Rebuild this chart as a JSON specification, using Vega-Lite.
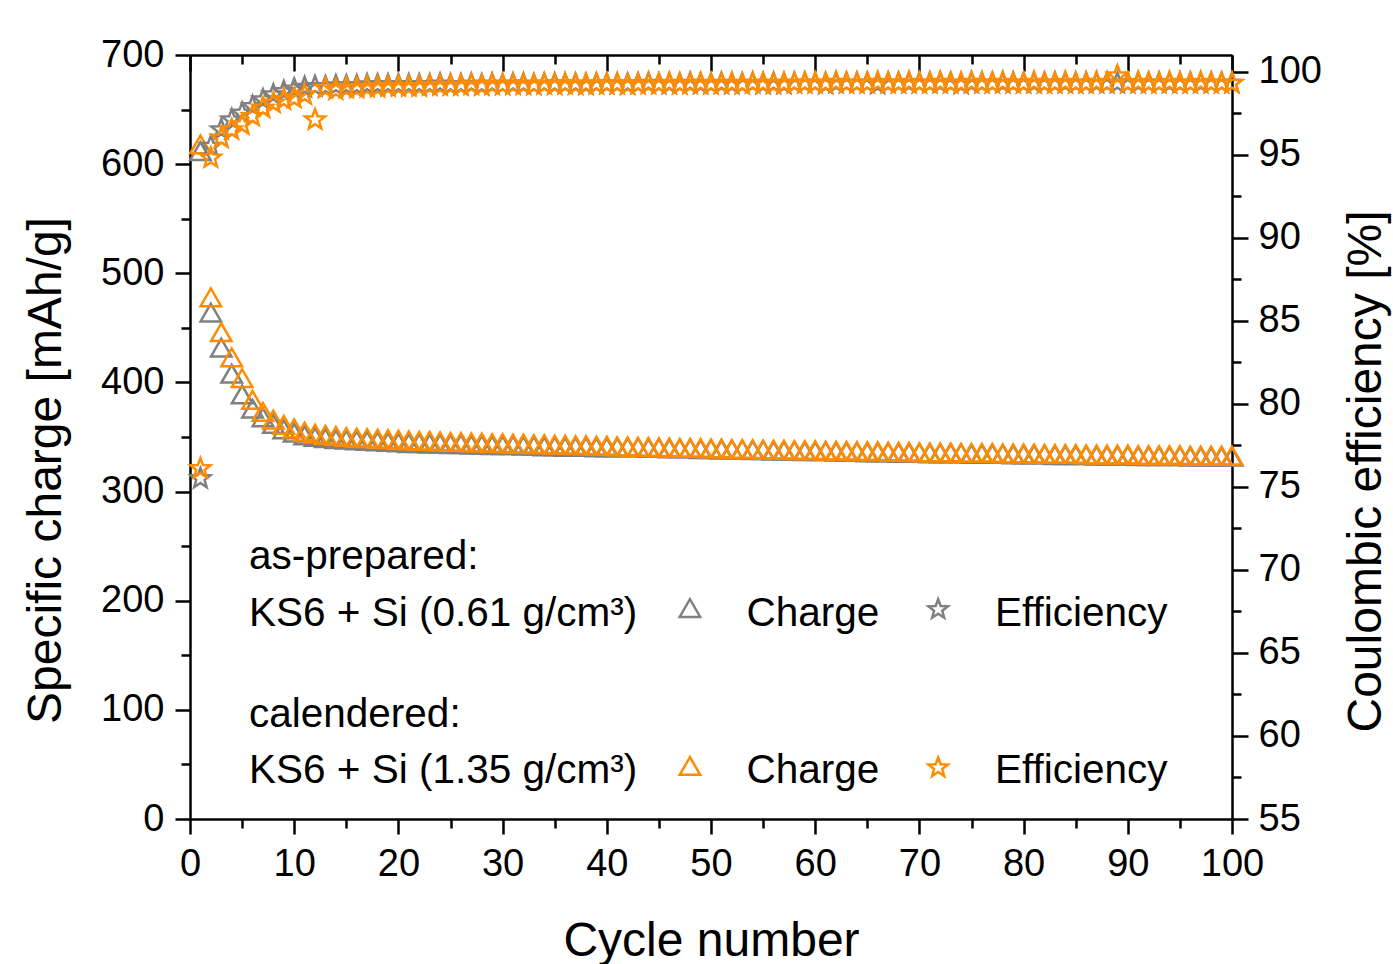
{
  "$schema": "https://vega.github.io/schema/vega-lite/v6.json",
  "width": 1042,
  "height": 764,
  "autosize": {"type": "none"},
  "padding": {"left": 190, "top": 55, "right": 161, "bottom": 145},
  "background": "white",
  "config": {
    "view": {"stroke": null},
    "axis": {
      "domainColor": "black", "domainWidth": 2.5, "tickColor": "black", "tickWidth": 2.5,
      "labelFont": "Liberation Sans", "labelFontSize": 38, "labelColor": "black",
      "titleFont": "Liberation Sans", "titleFontSize": 48, "titleFontWeight": "normal", "titleColor": "black",
      "grid": false, "labelOverlap": false, "labelFlush": false, "labelBound": false
    }
  },
  "data": {"values": [
    {"c":1,"s":"as-prepared","q":612,"e":75.5},{"c":2,"s":"as-prepared","q":464,"e":95.5},{"c":3,"s":"as-prepared","q":432,"e":96.5},{"c":4,"s":"as-prepared","q":408,"e":97.1},{"c":5,"s":"as-prepared","q":389,"e":97.5},{"c":6,"s":"as-prepared","q":376,"e":97.9},{"c":7,"s":"as-prepared","q":368,"e":98.3},{"c":8,"s":"as-prepared","q":362,"e":98.6},{"c":9,"s":"as-prepared","q":357,"e":98.8},{"c":10,"s":"as-prepared","q":354,"e":98.95},
    {"c":11,"s":"as-prepared","q":351.5,"e":99.05},{"c":12,"s":"as-prepared","q":350,"e":99.1},{"c":13,"s":"as-prepared","q":349,"e":99.1},{"c":14,"s":"as-prepared","q":348,"e":99.15},{"c":15,"s":"as-prepared","q":347.5,"e":99.15},{"c":16,"s":"as-prepared","q":347,"e":99.15},{"c":17,"s":"as-prepared","q":346.5,"e":99.2},{"c":18,"s":"as-prepared","q":346,"e":99.2},{"c":19,"s":"as-prepared","q":345.5,"e":99.2},{"c":20,"s":"as-prepared","q":345,"e":99.2},
    {"c":21,"s":"as-prepared","q":344.5,"e":99.2},{"c":22,"s":"as-prepared","q":344.5,"e":99.2},{"c":23,"s":"as-prepared","q":344,"e":99.2},{"c":24,"s":"as-prepared","q":344,"e":99.25},{"c":25,"s":"as-prepared","q":343.5,"e":99.2},{"c":26,"s":"as-prepared","q":343.5,"e":99.2},{"c":27,"s":"as-prepared","q":343,"e":99.25},{"c":28,"s":"as-prepared","q":343,"e":99.2},{"c":29,"s":"as-prepared","q":342.5,"e":99.25},{"c":30,"s":"as-prepared","q":342.5,"e":99.2},
    {"c":31,"s":"as-prepared","q":342.5,"e":99.25},{"c":32,"s":"as-prepared","q":342,"e":99.25},{"c":33,"s":"as-prepared","q":342,"e":99.2},{"c":34,"s":"as-prepared","q":341.5,"e":99.25},{"c":35,"s":"as-prepared","q":341.5,"e":99.25},{"c":36,"s":"as-prepared","q":341,"e":99.25},{"c":37,"s":"as-prepared","q":341,"e":99.25},{"c":38,"s":"as-prepared","q":341,"e":99.2},{"c":39,"s":"as-prepared","q":340.5,"e":99.25},{"c":40,"s":"as-prepared","q":340.5,"e":99.25},
    {"c":41,"s":"as-prepared","q":340.5,"e":99.25},{"c":42,"s":"as-prepared","q":340.5,"e":99.25},{"c":43,"s":"as-prepared","q":340.5,"e":99.25},{"c":44,"s":"as-prepared","q":340,"e":99.3},{"c":45,"s":"as-prepared","q":340,"e":99.25},{"c":46,"s":"as-prepared","q":339.5,"e":99.25},{"c":47,"s":"as-prepared","q":339.5,"e":99.25},{"c":48,"s":"as-prepared","q":339.5,"e":99.3},{"c":49,"s":"as-prepared","q":339,"e":99.25},{"c":50,"s":"as-prepared","q":339,"e":99.25},
    {"c":51,"s":"as-prepared","q":338.5,"e":99.3},{"c":52,"s":"as-prepared","q":338.5,"e":99.25},{"c":53,"s":"as-prepared","q":338.5,"e":99.25},{"c":54,"s":"as-prepared","q":338,"e":99.3},{"c":55,"s":"as-prepared","q":338,"e":99.25},{"c":56,"s":"as-prepared","q":337.5,"e":99.3},{"c":57,"s":"as-prepared","q":337.5,"e":99.25},{"c":58,"s":"as-prepared","q":337.5,"e":99.3},{"c":59,"s":"as-prepared","q":337,"e":99.3},{"c":60,"s":"as-prepared","q":337,"e":99.3},
    {"c":61,"s":"as-prepared","q":337,"e":99.25},{"c":62,"s":"as-prepared","q":336.5,"e":99.3},{"c":63,"s":"as-prepared","q":336.5,"e":99.3},{"c":64,"s":"as-prepared","q":336.5,"e":99.3},{"c":65,"s":"as-prepared","q":336,"e":99.3},{"c":66,"s":"as-prepared","q":336,"e":99.25},{"c":67,"s":"as-prepared","q":336,"e":99.3},{"c":68,"s":"as-prepared","q":335.5,"e":99.3},{"c":69,"s":"as-prepared","q":335.5,"e":99.3},{"c":70,"s":"as-prepared","q":335.5,"e":99.3},
    {"c":71,"s":"as-prepared","q":335,"e":99.3},{"c":72,"s":"as-prepared","q":335,"e":99.3},{"c":73,"s":"as-prepared","q":335,"e":99.3},{"c":74,"s":"as-prepared","q":335,"e":99.25},{"c":75,"s":"as-prepared","q":334.5,"e":99.3},{"c":76,"s":"as-prepared","q":334.5,"e":99.3},{"c":77,"s":"as-prepared","q":334.5,"e":99.3},{"c":78,"s":"as-prepared","q":334.5,"e":99.3},{"c":79,"s":"as-prepared","q":334,"e":99.3},{"c":80,"s":"as-prepared","q":334,"e":99.3},
    {"c":81,"s":"as-prepared","q":334,"e":99.3},{"c":82,"s":"as-prepared","q":334,"e":99.3},{"c":83,"s":"as-prepared","q":333.5,"e":99.3},{"c":84,"s":"as-prepared","q":333.5,"e":99.3},{"c":85,"s":"as-prepared","q":333.5,"e":99.3},{"c":86,"s":"as-prepared","q":333.5,"e":99.3},{"c":87,"s":"as-prepared","q":333,"e":99.3},{"c":88,"s":"as-prepared","q":333,"e":99.3},{"c":89,"s":"as-prepared","q":333,"e":99.3},{"c":90,"s":"as-prepared","q":333,"e":99.3},
    {"c":91,"s":"as-prepared","q":332.5,"e":99.3},{"c":92,"s":"as-prepared","q":332.5,"e":99.3},{"c":93,"s":"as-prepared","q":332.5,"e":99.3},{"c":94,"s":"as-prepared","q":332.5,"e":99.3},{"c":95,"s":"as-prepared","q":332.5,"e":99.3},{"c":96,"s":"as-prepared","q":332,"e":99.3},{"c":97,"s":"as-prepared","q":332,"e":99.3},{"c":98,"s":"as-prepared","q":332,"e":99.3},{"c":99,"s":"as-prepared","q":332,"e":99.3},{"c":100,"s":"as-prepared","q":332,"e":99.3},
    {"c":1,"s":"calendered","q":618,"e":76.1},{"c":2,"s":"calendered","q":478,"e":94.8},{"c":3,"s":"calendered","q":446,"e":96.0},{"c":4,"s":"calendered","q":423,"e":96.5},{"c":5,"s":"calendered","q":404,"e":96.8},{"c":6,"s":"calendered","q":384,"e":97.3},{"c":7,"s":"calendered","q":373,"e":97.8},{"c":8,"s":"calendered","q":366,"e":98.1},{"c":9,"s":"calendered","q":361,"e":98.3},{"c":10,"s":"calendered","q":358,"e":98.4},
    {"c":11,"s":"calendered","q":355,"e":98.6},{"c":12,"s":"calendered","q":353,"e":97.1},{"c":13,"s":"calendered","q":352,"e":99.0},{"c":14,"s":"calendered","q":351,"e":98.9},{"c":15,"s":"calendered","q":350,"e":99.0},{"c":16,"s":"calendered","q":349.5,"e":99.0},{"c":17,"s":"calendered","q":349,"e":99.05},{"c":18,"s":"calendered","q":348.5,"e":99.05},{"c":19,"s":"calendered","q":348,"e":99.1},{"c":20,"s":"calendered","q":347.5,"e":99.1},
    {"c":21,"s":"calendered","q":347,"e":99.1},{"c":22,"s":"calendered","q":346.5,"e":99.1},{"c":23,"s":"calendered","q":346.5,"e":99.15},{"c":24,"s":"calendered","q":346,"e":99.15},{"c":25,"s":"calendered","q":345.5,"e":99.15},{"c":26,"s":"calendered","q":345.5,"e":99.15},{"c":27,"s":"calendered","q":345,"e":99.2},{"c":28,"s":"calendered","q":345,"e":99.15},{"c":29,"s":"calendered","q":344.5,"e":99.2},{"c":30,"s":"calendered","q":344.5,"e":99.2},
    {"c":31,"s":"calendered","q":344,"e":99.2},{"c":32,"s":"calendered","q":344,"e":99.2},{"c":33,"s":"calendered","q":343.5,"e":99.2},{"c":34,"s":"calendered","q":343.5,"e":99.25},{"c":35,"s":"calendered","q":343,"e":99.2},{"c":36,"s":"calendered","q":343,"e":99.25},{"c":37,"s":"calendered","q":342.5,"e":99.2},{"c":38,"s":"calendered","q":342.5,"e":99.25},{"c":39,"s":"calendered","q":342,"e":99.25},{"c":40,"s":"calendered","q":342,"e":99.25},
    {"c":41,"s":"calendered","q":341.5,"e":99.25},{"c":42,"s":"calendered","q":341.5,"e":99.2},{"c":43,"s":"calendered","q":341,"e":99.25},{"c":44,"s":"calendered","q":341,"e":99.25},{"c":45,"s":"calendered","q":340.5,"e":99.25},{"c":46,"s":"calendered","q":340.5,"e":99.3},{"c":47,"s":"calendered","q":340,"e":99.25},{"c":48,"s":"calendered","q":340,"e":99.25},{"c":49,"s":"calendered","q":340,"e":99.3},{"c":50,"s":"calendered","q":339.5,"e":99.25},
    {"c":51,"s":"calendered","q":339.5,"e":99.25},{"c":52,"s":"calendered","q":339,"e":99.3},{"c":53,"s":"calendered","q":339,"e":99.25},{"c":54,"s":"calendered","q":339,"e":99.3},{"c":55,"s":"calendered","q":338.5,"e":99.3},{"c":56,"s":"calendered","q":338.5,"e":99.25},{"c":57,"s":"calendered","q":338.5,"e":99.3},{"c":58,"s":"calendered","q":338,"e":99.3},{"c":59,"s":"calendered","q":338,"e":99.3},{"c":60,"s":"calendered","q":338,"e":99.3},
    {"c":61,"s":"calendered","q":337.5,"e":99.3},{"c":62,"s":"calendered","q":337.5,"e":99.35},{"c":63,"s":"calendered","q":337.5,"e":99.3},{"c":64,"s":"calendered","q":337,"e":99.3},{"c":65,"s":"calendered","q":337,"e":99.3},{"c":66,"s":"calendered","q":337,"e":99.35},{"c":67,"s":"calendered","q":336.5,"e":99.3},{"c":68,"s":"calendered","q":336.5,"e":99.3},{"c":69,"s":"calendered","q":336.5,"e":99.35},{"c":70,"s":"calendered","q":336,"e":99.3},
    {"c":71,"s":"calendered","q":336,"e":99.3},{"c":72,"s":"calendered","q":336,"e":99.35},{"c":73,"s":"calendered","q":336,"e":99.3},{"c":74,"s":"calendered","q":335.5,"e":99.3},{"c":75,"s":"calendered","q":335.5,"e":99.35},{"c":76,"s":"calendered","q":335.5,"e":99.3},{"c":77,"s":"calendered","q":335.5,"e":99.3},{"c":78,"s":"calendered","q":335,"e":99.35},{"c":79,"s":"calendered","q":335,"e":99.3},{"c":80,"s":"calendered","q":335,"e":99.3},
    {"c":81,"s":"calendered","q":335,"e":99.35},{"c":82,"s":"calendered","q":334.5,"e":99.3},{"c":83,"s":"calendered","q":334.5,"e":99.3},{"c":84,"s":"calendered","q":334.5,"e":99.35},{"c":85,"s":"calendered","q":334.5,"e":99.3},{"c":86,"s":"calendered","q":334,"e":99.3},{"c":87,"s":"calendered","q":334,"e":99.35},{"c":88,"s":"calendered","q":334,"e":99.3},{"c":89,"s":"calendered","q":334,"e":99.75},{"c":90,"s":"calendered","q":334,"e":99.3},
    {"c":91,"s":"calendered","q":333.5,"e":99.35},{"c":92,"s":"calendered","q":333.5,"e":99.3},{"c":93,"s":"calendered","q":333.5,"e":99.3},{"c":94,"s":"calendered","q":333.5,"e":99.35},{"c":95,"s":"calendered","q":333.5,"e":99.3},{"c":96,"s":"calendered","q":333,"e":99.3},{"c":97,"s":"calendered","q":333,"e":99.35},{"c":98,"s":"calendered","q":333,"e":99.3},{"c":99,"s":"calendered","q":333,"e":99.3},{"c":100,"s":"calendered","q":333,"e":99.3}
  ]},
  "layer": [
    {
      "mark": {"type": "point", "shape": "triangle-up", "filled": false, "size": 420, "strokeWidth": 2.5, "opacity": 1},
      "encoding": {
        "x": {"field": "c", "type": "quantitative", "scale": {"domain": [0, 100], "nice": false, "zero": false},
          "axis": {"orient": "bottom", "values": [0,5,10,15,20,25,30,35,40,45,50,55,60,65,70,75,80,85,90,95,100],
            "labelExpr": "datum.value % 10 === 0 ? datum.label : ''", "format": "d",
            "tickSize": {"condition": {"test": "datum.value % 10 === 0", "value": 15}, "value": 9},
            "labelPadding": 11, "title": "Cycle number", "titleX": 521, "titleY": 136, "titleAlign": "center", "titleBaseline": "alphabetic"}},
        "y": {"field": "q", "type": "quantitative", "scale": {"domain": [0, 700], "nice": false},
          "axis": {"orient": "left", "values": [0,50,100,150,200,250,300,350,400,450,500,550,600,650,700],
            "labelExpr": "datum.value % 100 === 0 ? datum.label : ''", "format": "d",
            "tickSize": {"condition": {"test": "datum.value % 100 === 0", "value": 15}, "value": 9},
            "labelPadding": 11, "title": "Specific charge [mAh/g]", "titleAngle": -90, "titleX": -130, "titleY": 415, "titleAlign": "center", "titleBaseline": "alphabetic"}},
        "color": {"field": "s", "type": "nominal", "scale": {"domain": ["as-prepared", "calendered"], "range": ["#808080", "#ff8c00"]}, "legend": null}
      }
    },
    {
      "mark": {"type": "point", "shape": "M0,-1L0.247,-0.34L0.951,-0.309L0.399,0.13L0.588,0.809L0,0.42L-0.588,0.809L-0.399,0.13L-0.951,-0.309L-0.247,-0.34Z", "filled": false, "size": 440, "strokeWidth": 2.5, "opacity": 1},
      "encoding": {
        "x": {"field": "c", "type": "quantitative", "scale": {"domain": [0, 100], "nice": false, "zero": false},
          "axis": {"orient": "top", "values": [0,5,10,15,20,25,30,35,40,45,50,55,60,65,70,75,80,85,90,95,100],
            "labels": false, "title": null,
            "tickSize": {"condition": {"test": "datum.value % 10 === 0", "value": -16}, "value": -9}}},
        "y": {"field": "e", "type": "quantitative", "scale": {"domain": [55, 101], "nice": false, "zero": false},
          "axis": {"orient": "right", "values": [55,57.5,60,62.5,65,67.5,70,72.5,75,77.5,80,82.5,85,87.5,90,92.5,95,97.5,100],
            "labelExpr": "datum.value % 5 === 0 ? datum.label : ''", "format": "d",
            "tickSize": {"condition": {"test": "datum.value % 5 === 0", "value": 16}, "value": 9},
            "labelPadding": 10, "title": "Coulombic efficiency [%]", "titleAngle": -90, "titleX": 148, "titleY": 416, "titleAlign": "center", "titleBaseline": "alphabetic"}},
        "color": {"field": "s", "type": "nominal", "legend": null}
      }
    },
    {
      "data": {"values": [
        {"lx": 5.66, "ly": 229.1, "t": "as-prepared:"},
        {"lx": 5.66, "ly": 176.8, "t": "KS6 + Si (0.61 g/cm³)"},
        {"lx": 53.4, "ly": 176.8, "t": "Charge"},
        {"lx": 77.25, "ly": 176.8, "t": "Efficiency"},
        {"lx": 5.66, "ly": 84.3, "t": "calendered:"},
        {"lx": 5.66, "ly": 33.0, "t": "KS6 + Si (1.35 g/cm³)"},
        {"lx": 53.4, "ly": 33.0, "t": "Charge"},
        {"lx": 77.25, "ly": 33.0, "t": "Efficiency"}
      ]},
      "mark": {"type": "text", "align": "left", "baseline": "alphabetic", "font": "Liberation Sans", "fontSize": 40.5, "color": "black"},
      "encoding": {
        "x": {"field": "lx", "type": "quantitative", "scale": {"domain": [0, 100], "nice": false, "zero": false}, "axis": null},
        "y": {"field": "ly", "type": "quantitative", "scale": {"domain": [0, 700], "nice": false}, "axis": null},
        "text": {"field": "t", "type": "nominal"}
      }
    },
    {
      "data": {"values": [
        {"lx": 47.98, "ly": 193.3, "s": "as-prepared", "k": "Charge"},
        {"lx": 71.8, "ly": 192.0, "s": "as-prepared", "k": "Efficiency"},
        {"lx": 47.98, "ly": 48.6, "s": "calendered", "k": "Charge"},
        {"lx": 71.8, "ly": 47.0, "s": "calendered", "k": "Efficiency"}
      ]},
      "mark": {"type": "point", "filled": false, "size": 420, "strokeWidth": 2.5, "opacity": 1},
      "encoding": {
        "x": {"field": "lx", "type": "quantitative", "scale": {"domain": [0, 100], "nice": false, "zero": false}, "axis": null},
        "y": {"field": "ly", "type": "quantitative", "scale": {"domain": [0, 700], "nice": false}, "axis": null},
        "shape": {"field": "k", "type": "nominal", "scale": {"domain": ["Charge", "Efficiency"], "range": ["triangle-up", "M0,-1L0.247,-0.34L0.951,-0.309L0.399,0.13L0.588,0.809L0,0.42L-0.588,0.809L-0.399,0.13L-0.951,-0.309L-0.247,-0.34Z"]}, "legend": null},
        "color": {"field": "s", "type": "nominal", "legend": null}
      }
    }
  ],
  "resolve": {"scale": {"y": "independent"}, "axis": {"x": "independent", "y": "independent"}}
}
